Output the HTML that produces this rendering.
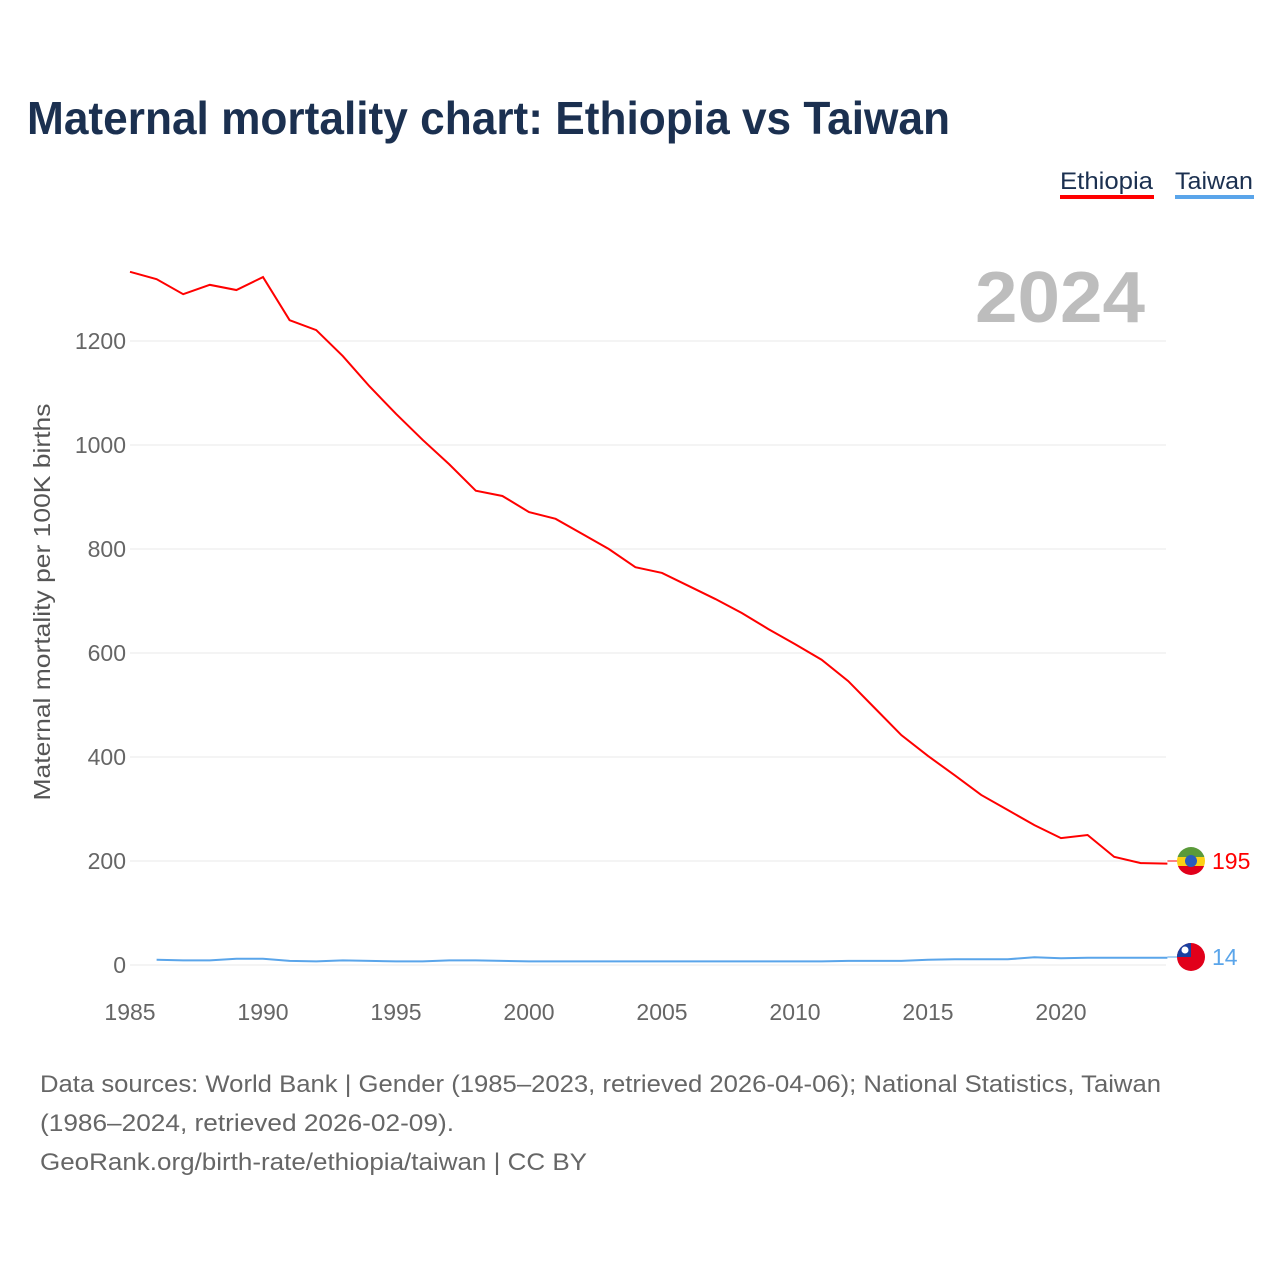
<!DOCTYPE html>
<html><head><meta charset="utf-8"><style>
body{margin:0;background:#fff;font-family:"Liberation Sans",sans-serif;}
#wrap{position:relative;width:1280px;height:1280px;}
</style></head><body><div id="wrap">
<svg id="svg" width="1280" height="1280" xmlns="http://www.w3.org/2000/svg">
<defs><clipPath id="c1"><circle cx="1191" cy="861" r="14"/></clipPath><clipPath id="c2"><circle cx="1191" cy="957" r="14"/></clipPath></defs>
<text x="27" y="134" font-size="46" font-weight="bold" fill="#1b3050" textLength="923" lengthAdjust="spacingAndGlyphs">Maternal mortality chart: Ethiopia vs Taiwan</text>
<g><text x="1060" y="189" font-size="24" fill="#1b3050" textLength="93" lengthAdjust="spacingAndGlyphs">Ethiopia</text><rect x="1060" y="195" width="94" height="4" fill="#ff0000"/></g>
<g><text x="1175" y="189" font-size="24" fill="#1b3050" textLength="78" lengthAdjust="spacingAndGlyphs">Taiwan</text><rect x="1175" y="195" width="79" height="4" fill="#5aa5ea"/></g>
<text x="1145" y="322" font-size="72" font-weight="bold" fill="#bdbdbd" text-anchor="end" textLength="170" lengthAdjust="spacingAndGlyphs">2024</text>
<text transform="translate(50,602) rotate(-90)" font-size="23" fill="#555" text-anchor="middle" textLength="397" lengthAdjust="spacingAndGlyphs">Maternal mortality per 100K births</text>
<g id="grid"></g><g id="marks"></g>
<text x="40" y="1092" font-size="24" fill="#666" textLength="1121" lengthAdjust="spacingAndGlyphs">Data sources: World Bank | Gender (1985–2023, retrieved 2026-04-06); National Statistics, Taiwan</text>
<text x="40" y="1131" font-size="24" fill="#666" textLength="414" lengthAdjust="spacingAndGlyphs">(1986–2024, retrieved 2026-02-09).</text>
<text x="40" y="1170" font-size="24" fill="#666" textLength="547" lengthAdjust="spacingAndGlyphs">GeoRank.org/birth-rate/ethiopia/taiwan | CC BY</text>
</svg></div>
<script>
const yTicks=[0,200,400,600,800,1000,1200];
const xTicks=[1985,1990,1995,2000,2005,2010,2015,2020];
const ethYears=[1985,1986,1987,1988,1989,1990,1991,1992,1993,1994,1995,1996,1997,1998,1999,2000,2001,2002,2003,2004,2005,2006,2007,2008,2009,2010,2011,2012,2013,2014,2015,2016,2017,2018,2019,2020,2021,2022,2023,2024];
const ethVals=[1333,1319,1290,1308,1298,1323,1240,1221,1171,1113,1060,1010,963,912,902,871,858,829,800,765,754,729,704,677,646,617,587,546,494,442,402,365,327,298,269,244,250,208,196,195];
const twYears=[1986,1987,1988,1989,1990,1991,1992,1993,1994,1995,1996,1997,1998,1999,2000,2001,2002,2003,2004,2005,2006,2007,2008,2009,2010,2011,2012,2013,2014,2015,2016,2017,2018,2019,2020,2021,2022,2023,2024];
const twVals=[10,9,9,12,12,8,7,9,8,7,7,9,9,8,7,7,7,7,7,7,7,7,7,7,7,7,8,8,8,10,11,11,11,15,13,14,14,14,14];
const X=y=>130+(y-1985)*26.6, Y=v=>965-v*0.52;
const NS="http://www.w3.org/2000/svg";
const grid=document.getElementById('grid'), marks=document.getElementById('marks');
function mk(t,a,p){const e=document.createElementNS(NS,t);for(const k in a)e.setAttribute(k,a[k]);p.appendChild(e);return e;}
yTicks.forEach(v=>{
 const l=mk('line',{x1:130,x2:1166,y1:Y(v),y2:Y(v),stroke:'#e8e8e8','stroke-width':1},grid);
 
 
 const t=mk('text',{x:126,y:Y(v)+8,'font-size':23,fill:'#666','text-anchor':'end'},grid);t.textContent=v;
 
 
});
xTicks.forEach(v=>{
 const t=mk('text',{x:X(v),y:1020,'font-size':23,fill:'#666','text-anchor':'middle'},grid);t.textContent=v;
 
 
});
const e=mk('polyline',{points:ethYears.map((y,i)=>X(y)+','+Y(ethVals[i])).join(' '),fill:'none',stroke:'#ff0000','stroke-width':2},marks);


const w=mk('polyline',{points:twYears.map((y,i)=>X(y)+','+Y(twVals[i])).join(' '),fill:'none',stroke:'#5aa5ea','stroke-width':2},marks);


function flag(cy,type,val,col,name){
 const g=mk('g',{},marks);
 
 
 mk('line',{x1:X(2024),x2:1178,y1:cy,y2:cy,stroke:col,'stroke-width':1},g);
 const f=mk('g',{'clip-path':type==='et'?'url(#c1)':'url(#c2)'},g);
 if(type==='et'){
  mk('rect',{x:1177,y:cy-14,width:28,height:10,fill:'#5a9a3a'},f);
  mk('rect',{x:1177,y:cy-4,width:28,height:9,fill:'#fcd116'},f);
  mk('rect',{x:1177,y:cy+5,width:28,height:10,fill:'#e1001a'},f);
  mk('circle',{cx:1191,cy:cy,r:6,fill:'#2a5dbd'},f);
 } else {
  mk('rect',{x:1177,y:cy-14,width:28,height:28,fill:'#e1001a'},f);
  mk('rect',{x:1177,y:cy-14,width:14,height:14,fill:'#1a3fa0'},f);
  mk('circle',{cx:1185,cy:cy-7,r:3.5,fill:'#fff'},f);
 }
 const t=mk('text',{x:1212,y:cy+8,'font-size':23,fill:col},g);t.textContent=val;
}
flag(861,'et',ethVals[ethVals.length-1],'#ff0000','ethiopia-end-label');
flag(957,'tw',twVals[twVals.length-1],'#5aa5ea','taiwan-end-label');
</script></body></html>
